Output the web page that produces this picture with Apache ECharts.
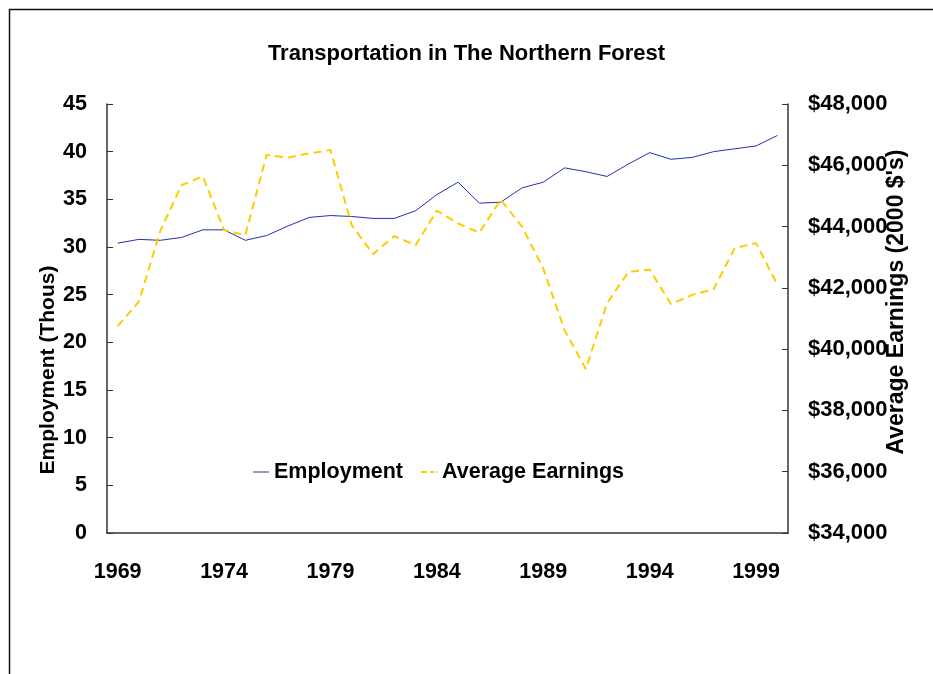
<!DOCTYPE html>
<html>
<head>
<meta charset="utf-8">
<script src="https://cdn.jsdelivr.net/npm/echarts@6/dist/echarts.min.js"></script>
<style>
html,body{margin:0;padding:0;background:#fff;}
#chart{width:933px;height:674px;}
</style>
</head>
<body>
<div id="chart"></div>
<script>
const years = ['1969','1970','1971','1972','1973','1974','1975','1976','1977','1978','1979','1980','1981','1982','1983','1984','1985','1986','1987','1988','1989','1990','1991','1992','1993','1994','1995','1996','1997','1998','1999','2000'];
const employment = [30.4,30.8,30.7,31.0,31.8,31.8,30.7,31.2,32.2,33.1,33.3,33.2,33.0,33.0,33.8,35.5,36.8,34.6,34.7,36.2,36.8,38.3,37.9,37.4,38.7,39.9,39.2,39.4,40.0,40.3,40.6,41.7];
const earnings = [40750,41550,43850,45350,45640,43890,43720,46340,46250,46390,46500,44050,43100,43690,43390,44520,44100,43800,44880,44000,42630,40620,39350,41500,42520,42600,41470,41770,41950,43300,43460,42100];
const titleText = 'Transportation in The Northern Forest';
const leftAxisName = 'Employment (Thous)';
const rightAxisName = "Average Earnings (2000 $'s)";

const FONT = '"Liberation Sans", Arial, sans-serif';
const chart = echarts.init(document.getElementById('chart'));
chart.setOption({
  animation: false,
  backgroundColor: '#fff',
  title: {
    text: titleText, left: 'center', top: 38,
    textStyle: {fontFamily: FONT, fontWeight: 'bold', fontSize: 22, color: '#000'}
  },
  legend: {
    left: 248, top: 456, itemWidth: 16, itemHeight: 10, itemGap: 18,
    textStyle: {fontFamily: FONT, fontWeight: 'bold', fontSize: 21.5, color: '#000'},
    data: [
      {name: 'Employment', icon: 'path://M0,5L16,5L16,6L0,6Z'},
      {name: 'Average Earnings', icon: 'path://M0,5L6,5L6,7L0,7Z M9,5L13,5L13,7L9,7Z M15,5L16,5L16,7L15,7Z'}
    ]
  },
  grid: {left: 107, right: 145, top: 104, bottom: 141, containLabel: false},
  xAxis: {
    type: 'category', data: years, boundaryGap: true,
    axisLine: {lineStyle: {color: '#333', width: 1.5}},
    axisTick: {inside: true, length: 5, interval: 0, lineStyle: {color: '#555'}},
    axisLabel: {interval: 4, margin: 28, fontFamily: FONT, fontWeight: 'bold', fontSize: 21.5, color: '#000'},
    splitLine: {show: false}
  },
  yAxis: [
    {
      type: 'value', min: 0, max: 45, interval: 5, position: 'left',
      axisLine: {show: true, lineStyle: {color: '#333', width: 1.5}},
      axisTick: {show: true, inside: true, length: 6, lineStyle: {color: '#333'}},
      axisLabel: {margin: 20, fontFamily: FONT, fontWeight: 'bold', fontSize: 21.5, color: '#000'},
      splitLine: {show: false}
    },
    {
      type: 'value', min: 34000, max: 48000, interval: 2000, position: 'right',
      axisLine: {show: true, lineStyle: {color: '#333', width: 1.5}},
      axisTick: {show: true, inside: true, length: 6, lineStyle: {color: '#333'}},
      axisLabel: {margin: 20, fontFamily: FONT, fontWeight: 'bold', fontSize: 22, color: '#000',
        formatter: v => '$' + v.toLocaleString('en-US')},
      splitLine: {show: false}
    }
  ],
  series: [
    {
      name: 'Employment', type: 'line', yAxisIndex: 0, data: employment,
      showSymbol: false, symbol: 'none',
      lineStyle: {color: '#2233aa', width: 1},
      itemStyle: {color: '#2233aa'}
    },
    {
      name: 'Average Earnings', type: 'line', yAxisIndex: 1, data: earnings,
      showSymbol: false, symbol: 'none',
      lineStyle: {color: '#ffcc00', width: 2, type: [8, 5]},
      itemStyle: {color: '#ffcc00'}
    }
  ],
  graphic: [
    {type: 'rect', left: 7, top: 7, shape: {x: 0, y: 0, width: 1000, height: 1000},
      style: {fill: 'none', stroke: '#111', lineWidth: 1.5}, silent: true},
    {type: 'text', x: 48, y: 370, rotation: Math.PI / 2,
      style: {text: leftAxisName, fontFamily: FONT, fontWeight: 'bold', fontSize: 21, fill: '#000',
        textAlign: 'center', textVerticalAlign: 'middle'}},
    {type: 'text', x: 897, y: 302, rotation: Math.PI / 2,
      style: {text: rightAxisName, fontFamily: FONT, fontWeight: 'bold', fontSize: 23, fill: '#000',
        textAlign: 'center', textVerticalAlign: 'middle'}}
  ]
});
</script>
</body>
</html>
